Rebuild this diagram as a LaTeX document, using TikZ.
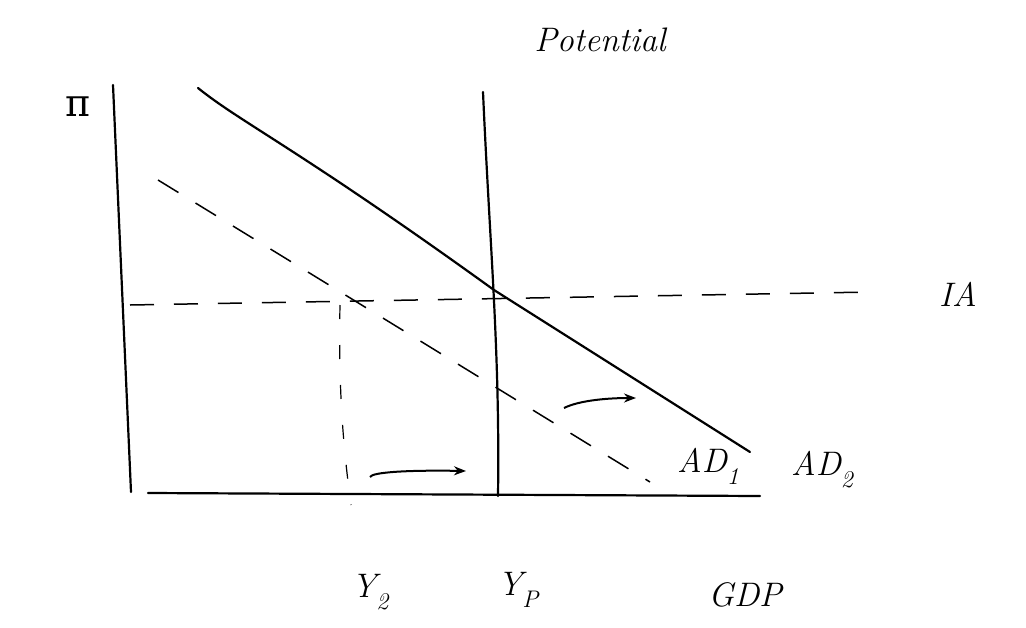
\documentclass[tikz,border=0pt]{standalone}
\usepackage{fontspec}
\newfontfamily\greekfont{DejaVu Serif}
\usetikzlibrary{arrows.meta}
\newcommand{\lowsub}[1]{\raisebox{-0.35em}{\fontsize{24}{26}\selectfont #1}}
\begin{document}
\begin{tikzpicture}[x=1pt,y=-1pt,
  axis/.style={line width=2.2pt,line cap=round},
  curve/.style={line width=2.2pt,line cap=round},
  dashline/.style={line width=1.5pt,dash pattern=on 24pt off 20pt},
  shiftarrow/.style={line width=2pt,-{Stealth[length=12pt,width=9pt]}},
  lab/.style={inner sep=0pt,font=\fontsize{34}{36}\selectfont\itshape}]
\useasboundingbox (0,0) rectangle (1026,627);
% axes
\coordinate (ytop) at (113,85);
\coordinate (ybot) at (131,492);
\coordinate (xl) at (148,493);
\coordinate (xr) at (760,496);
\draw[axis] (ytop) -- (ybot);
\draw[axis] (xl) -- (xr);
% potential
\coordinate (ptop) at (483,92);
\coordinate (pbot) at (498,496);
\draw[axis] (ptop) .. controls (490,250) and (500,350) .. (pbot);
% AD2
\coordinate (a2s) at (198,88);
\coordinate (eq) at (494,290);
\coordinate (a2e) at (750,452);
\draw[curve] (a2s) .. controls (240,122) and (300,150) .. (eq) -- (a2e);
% IA dashed
\coordinate (ias) at (130,305);
\coordinate (iae) at (872,292);
\draw[dashline] (ias) -- (iae);
% AD1 dashed
\coordinate (a1s) at (158,180);
\coordinate (y2top) at (340,305);
\coordinate (a1e) at (650,482);
\draw[dashline] (a1s) -- (a1e);
% Y2 dashed vertical
\coordinate (y2bot) at (351,505);
\draw[dashline,line width=1.2pt,dash pattern=on 14pt off 26pt] (y2top) .. controls (338,400) and (345,460) .. (y2bot);
% shift arrows
\coordinate (s1a) at (370,477);
\coordinate (s1b) at (466,471);
\draw[shiftarrow] (s1a) .. controls (372,472) and (410,470) .. (s1b);
\coordinate (s2a) at (564,408);
\coordinate (s2b) at (636,398);
\draw[shiftarrow] (s2a) .. controls (580,400) and (610,398) .. (s2b);
% labels
\node[lab] (pi) at (78,107) {\greekfont\upshape\fontsize{38}{40}\selectfont π};
\node[lab] (pot) at (600,40) {Potential};
\node[lab] (ia) at (958,294) {IA};
\node[lab] (ad1) at (708,466) {AD\lowsub{1}};
\node[lab] (ad2) at (822,470) {AD\lowsub{2}};
\node[lab] (y2) at (370,592) {Y\lowsub{2}};
\node[lab] (yp) at (518,590) {Y\lowsub{P}};
\node[lab] (gdp) at (745,595) {GDP};
\end{tikzpicture}
\end{document}
